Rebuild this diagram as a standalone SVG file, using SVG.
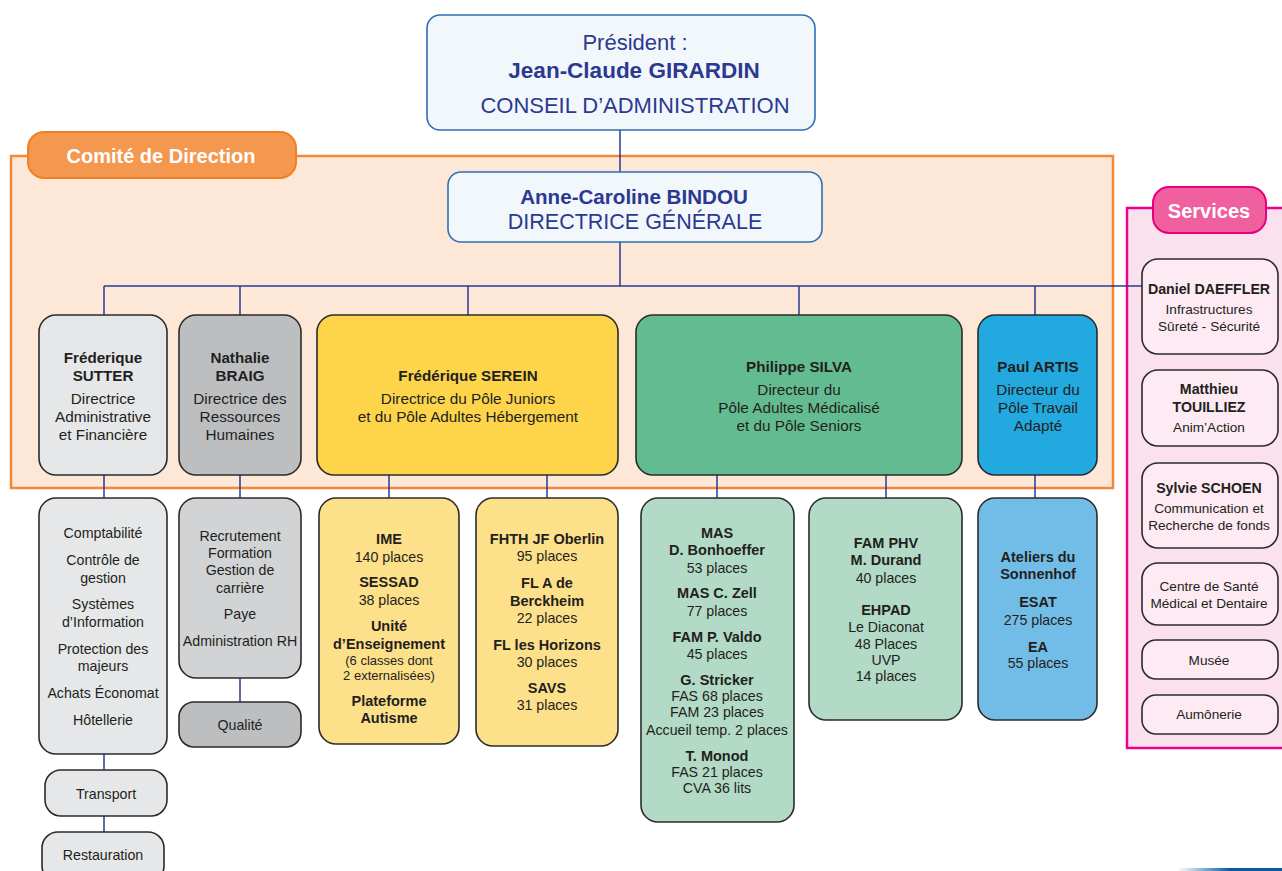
<svg xmlns="http://www.w3.org/2000/svg" width="1282" height="871" viewBox="0 0 1282 871">
<defs>
<linearGradient id="blueg" x1="0" y1="0" x2="1" y2="0">
<stop offset="0" stop-color="#0b5aa6" stop-opacity="0"/>
<stop offset="0.5" stop-color="#0b5aa6"/>
<stop offset="1" stop-color="#0b5aa6"/>
</linearGradient>
</defs>
<style>
text{font-family:"Liberation Sans",Arial,Helvetica,sans-serif;text-anchor:middle;dominant-baseline:central;fill:#231f20}
.t{font-size:22px;fill:#2b3990}
.tb{font-size:22.5px;fill:#2b3990;font-weight:bold}
.d{font-size:21.5px;fill:#2b3990}
.db{font-size:20.6px;fill:#2b3990;font-weight:bold}
.h{font-size:15.3px}
.hb{font-size:15.2px;font-weight:bold}
.s{font-size:14.2px}
.sb{font-size:14.5px;font-weight:bold}
.xs{font-size:13px}
.v{font-size:13.6px}
.vb{font-size:14.2px;font-weight:bold}
.tab{font-size:20px;font-weight:bold;fill:#fff}
.box{stroke:#2b2b2b;stroke-width:1.6}
.conn line{stroke:#2b3990;stroke-width:1.5}
</style>

<rect x="11" y="156" width="1102" height="332" fill="#fde8d7" stroke="#f3883a" stroke-width="2.5"/>
<rect x="1127" y="208" width="160" height="540" fill="#fbe1ed" stroke="#ec008c" stroke-width="2.5"/>

<g class="conn">
<line x1="620" y1="130" x2="620" y2="172"/>
<line x1="620" y1="242" x2="620" y2="286"/>
<line x1="104" y1="286" x2="1142" y2="286"/>
<line x1="104" y1="286" x2="104" y2="315"/>
<line x1="240" y1="286" x2="240" y2="315"/>
<line x1="468" y1="286" x2="468" y2="315"/>
<line x1="799" y1="286" x2="799" y2="315"/>
<line x1="1035" y1="286" x2="1035" y2="315"/>
<line x1="104" y1="475" x2="104" y2="498"/>
<line x1="240" y1="475" x2="240" y2="498"/>
<line x1="389" y1="475" x2="389" y2="498"/>
<line x1="547" y1="475" x2="547" y2="498"/>
<line x1="717" y1="475" x2="717" y2="498"/>
<line x1="886" y1="475" x2="886" y2="498"/>
<line x1="1035" y1="475" x2="1035" y2="498"/>
<line x1="104" y1="754" x2="104" y2="770"/>
<line x1="104" y1="816" x2="104" y2="832"/>
<line x1="240" y1="678" x2="240" y2="702"/>
</g>

<g id="tab-comite">
<rect x="28" y="132" width="268" height="46" rx="16" fill="#f5984f" stroke="#f07f23" stroke-width="2"/>
<text class="tab" x="161" y="156">Comité de Direction</text>
</g>
<g id="tab-services">
<rect x="1153" y="187" width="113" height="46" rx="16" fill="#f0609e" stroke="#e6007e" stroke-width="2"/>
<text class="tab" x="1209" y="211">Services</text>
</g>

<g id="president">
<rect x="427" y="15" width="388" height="115" rx="13" fill="#f2f7fc" stroke="#2f6eb5" stroke-width="1.6"/>
<text class="t" x="635" y="42">Président :</text>
<text class="tb" x="634" y="70">Jean-Claude GIRARDIN</text>
<text class="t" x="635" y="105">CONSEIL D’ADMINISTRATION</text>
</g>

<g id="dg">
<rect x="448" y="172" width="374" height="70" rx="13" fill="#f2f7fc" stroke="#2f6eb5" stroke-width="1.6"/>
<text class="db" x="634" y="196">Anne-Caroline BINDOU</text>
<text class="d" x="635" y="222">DIRECTRICE GÉNÉRALE</text>
</g>

<g id="sutter">
<rect class="box" x="39" y="315" width="128" height="160" rx="17" fill="#e6e7e8"/>
<text class="hb" x="103" y="357">Fréderique</text>
<text class="hb" x="103" y="375">SUTTER</text>
<text class="h" x="103" y="398">Directrice</text>
<text class="h" x="103" y="416">Administrative</text>
<text class="h" x="103" y="434">et Financière</text>
</g>
<g id="braig">
<rect class="box" x="179" y="315" width="122" height="160" rx="17" fill="#bcbec0"/>
<text class="hb" x="240" y="357">Nathalie</text>
<text class="hb" x="240" y="375">BRAIG</text>
<text class="h" x="240" y="398">Directrice des</text>
<text class="h" x="240" y="416">Ressources</text>
<text class="h" x="240" y="434">Humaines</text>
</g>
<g id="serein">
<rect class="box" x="317" y="315" width="301" height="160" rx="17" fill="#fdd44a"/>
<text class="hb" x="468" y="375">Frédérique SEREIN</text>
<text class="h" x="468" y="398">Directrice du Pôle Juniors</text>
<text class="h" x="468" y="416">et du Pôle Adultes Hébergement</text>
</g>
<g id="silva">
<rect class="box" x="636" y="315" width="326" height="160" rx="17" fill="#63bb92"/>
<text class="hb" x="799" y="366">Philippe SILVA</text>
<text class="h" x="799" y="389">Directeur du</text>
<text class="h" x="799" y="407">Pôle Adultes Médicalisé</text>
<text class="h" x="799" y="425">et du Pôle Seniors</text>
</g>
<g id="artis">
<rect class="box" x="978" y="315" width="119" height="160" rx="17" fill="#22a9e0"/>
<text class="hb" x="1038" y="366">Paul ARTIS</text>
<text class="h" x="1038" y="389">Directeur du</text>
<text class="h" x="1038" y="407">Pôle Travail</text>
<text class="h" x="1038" y="425">Adapté</text>
</g>

<g id="sutter-services">
<rect class="box" x="39" y="498" width="128" height="256" rx="17" fill="#e6e7e8"/>
<text class="s" x="103" y="533">Comptabilité</text>
<text class="s" x="103" y="560">Contrôle de</text>
<text class="s" x="103" y="578">gestion</text>
<text class="s" x="103" y="604">Systèmes</text>
<text class="s" x="103" y="622">d’Information</text>
<text class="s" x="103" y="649">Protection des</text>
<text class="s" x="103" y="666">majeurs</text>
<text class="s" x="103" y="693">Achats Économat</text>
<text class="s" x="103" y="720">Hôtellerie</text>
</g>
<g id="transport">
<rect class="box" x="45" y="770" width="122" height="46" rx="16" fill="#e6e7e8"/>
<text class="s" x="106" y="794">Transport</text>
</g>
<g id="restauration">
<rect class="box" x="42" y="832" width="122" height="50" rx="16" fill="#e6e7e8"/>
<text class="s" x="103" y="855">Restauration</text>
</g>

<g id="braig-services">
<rect class="box" x="179" y="498" width="122" height="180" rx="17" fill="#d1d3d4"/>
<text class="s" x="240" y="536">Recrutement</text>
<text class="s" x="240" y="553">Formation</text>
<text class="s" x="240" y="570">Gestion de</text>
<text class="s" x="240" y="588">carrière</text>
<text class="s" x="240" y="614">Paye</text>
<text class="s" x="240" y="641">Administration RH</text>
</g>
<g id="qualite">
<rect class="box" x="179" y="702" width="122" height="45" rx="15" fill="#bcbec0"/>
<text class="s" x="240" y="725">Qualité</text>
</g>

<g id="juniors">
<rect class="box" x="319" y="498" width="140" height="246" rx="17" fill="#fde08a"/>
<text class="sb" x="389" y="539">IME</text>
<text class="s" x="389" y="557">140 places</text>
<text class="sb" x="389" y="582">SESSAD</text>
<text class="s" x="389" y="600">38 places</text>
<text class="sb" x="389" y="626">Unité</text>
<text class="sb" x="389" y="644">d’Enseignement</text>
<text class="xs" x="389" y="660">(6 classes dont</text>
<text class="xs" x="389" y="675">2 externalisées)</text>
<text class="sb" x="389" y="701">Plateforme</text>
<text class="sb" x="389" y="718">Autisme</text>
</g>
<g id="hebergement">
<rect class="box" x="476" y="498" width="142" height="248" rx="17" fill="#fde08a"/>
<text class="sb" x="547" y="539">FHTH JF Oberlin</text>
<text class="s" x="547" y="556">95 places</text>
<text class="sb" x="547" y="583">FL A de</text>
<text class="sb" x="547" y="601">Berckheim</text>
<text class="s" x="547" y="618">22 places</text>
<text class="sb" x="547" y="645">FL les Horizons</text>
<text class="s" x="547" y="662">30 places</text>
<text class="sb" x="547" y="688">SAVS</text>
<text class="s" x="547" y="705">31 places</text>
</g>

<g id="medicalise">
<rect class="box" x="641" y="498" width="153" height="324" rx="17" fill="#b2dac6"/>
<text class="sb" x="717" y="533">MAS</text>
<text class="sb" x="717" y="550">D. Bonhoeffer</text>
<text class="s" x="717" y="568">53 places</text>
<text class="sb" x="717" y="593">MAS C. Zell</text>
<text class="s" x="717" y="611">77 places</text>
<text class="sb" x="717" y="637">FAM P. Valdo</text>
<text class="s" x="717" y="654">45 places</text>
<text class="sb" x="717" y="680">G. Stricker</text>
<text class="s" x="717" y="696">FAS 68 places</text>
<text class="s" x="717" y="712">FAM 23 places</text>
<text class="s" x="717" y="730">Accueil temp. 2 places</text>
<text class="sb" x="717" y="756">T. Monod</text>
<text class="s" x="717" y="772">FAS 21 places</text>
<text class="s" x="717" y="788">CVA 36 lits</text>
</g>
<g id="seniors">
<rect class="box" x="809" y="498" width="153" height="222" rx="17" fill="#b2dac6"/>
<text class="sb" x="886" y="543">FAM PHV</text>
<text class="sb" x="886" y="560">M. Durand</text>
<text class="s" x="886" y="578">40 places</text>
<text class="sb" x="886" y="610">EHPAD</text>
<text class="s" x="886" y="627">Le Diaconat</text>
<text class="s" x="886" y="644">48 Places</text>
<text class="s" x="886" y="660">UVP</text>
<text class="s" x="886" y="676">14 places</text>
</g>

<g id="travail">
<rect class="box" x="978" y="498" width="119" height="222" rx="17" fill="#72bde8"/>
<text class="sb" x="1038" y="557">Ateliers du</text>
<text class="sb" x="1038" y="574">Sonnenhof</text>
<text class="sb" x="1038" y="602">ESAT</text>
<text class="s" x="1038" y="620">275 places</text>
<text class="sb" x="1038" y="647">EA</text>
<text class="s" x="1038" y="663">55 places</text>
</g>

<g id="daeffler">
<rect class="box" x="1142" y="259" width="136" height="95" rx="16" fill="#fdeaf2"/>
<text class="vb" x="1209" y="289">Daniel DAEFFLER</text>
<text class="v" x="1209" y="309">Infrastructures</text>
<text class="v" x="1209" y="326">Sûreté - Sécurité</text>
</g>
<g id="touilliez">
<rect class="box" x="1142" y="370" width="136" height="76" rx="16" fill="#fdeaf2"/>
<text class="vb" x="1209" y="389">Matthieu</text>
<text class="vb" x="1209" y="407">TOUILLIEZ</text>
<text class="v" x="1209" y="427">Anim’Action</text>
</g>
<g id="schoen">
<rect class="box" x="1142" y="463" width="136" height="85" rx="16" fill="#fdeaf2"/>
<text class="vb" x="1209" y="488">Sylvie SCHOEN</text>
<text class="v" x="1209" y="508">Communication et</text>
<text class="v" x="1209" y="525">Recherche de fonds</text>
</g>
<g id="sante">
<rect class="box" x="1142" y="563" width="136" height="62" rx="16" fill="#fdeaf2"/>
<text class="v" x="1209" y="586">Centre de Santé</text>
<text class="v" x="1209" y="603">Médical et Dentaire</text>
</g>
<g id="musee">
<rect class="box" x="1142" y="640" width="136" height="39" rx="14" fill="#fdeaf2"/>
<text class="v" x="1209" y="660">Musée</text>
</g>
<g id="aumonerie">
<rect class="box" x="1142" y="695" width="136" height="39" rx="14" fill="#fdeaf2"/>
<text class="v" x="1209" y="714">Aumônerie</text>
</g>

<rect x="1178" y="868" width="104" height="3" fill="url(#blueg)"/>
</svg>
